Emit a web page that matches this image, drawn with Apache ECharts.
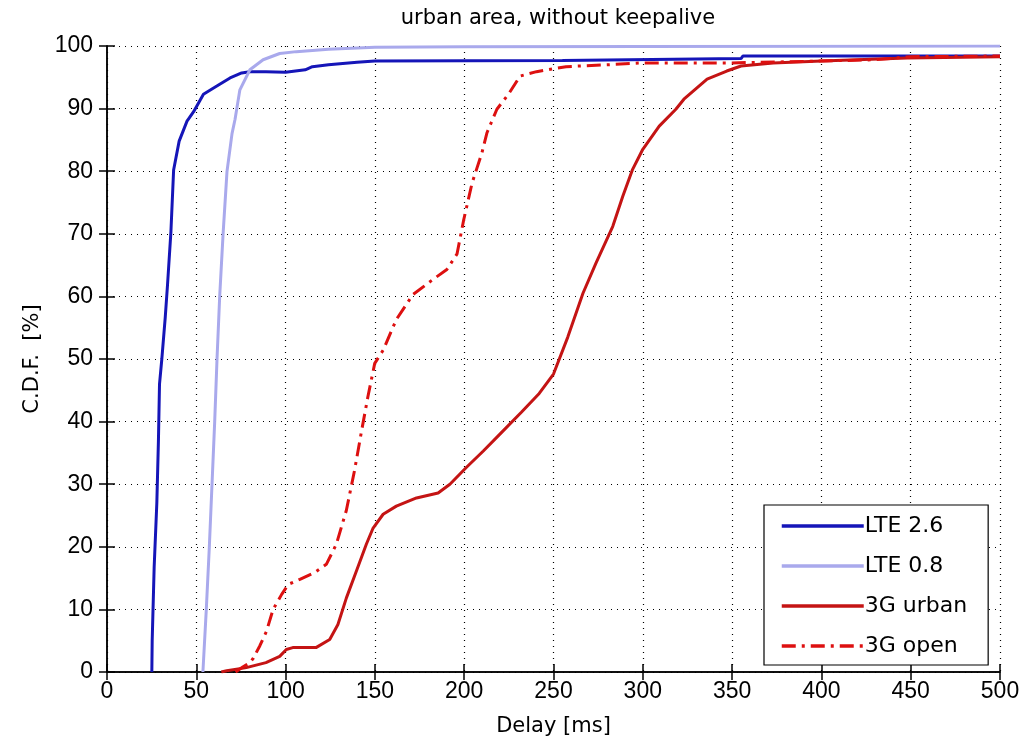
<!DOCTYPE html>
<html>
<head>
<meta charset="utf-8">
<script src="https://cdn.jsdelivr.net/npm/echarts@6/dist/echarts.min.js"></script>
<style>
  html, body { margin: 0; padding: 0; background: #fff; }
  #chart { width: 1027px; height: 747px; }
</style>
</head>
<body>
<div id="chart"></div>
<script>
// delay [ms] / C.D.F. [%]
const lte26Delay = [25.1, 25.3, 26.4, 27.9, 28.8, 29.4, 30.7, 32.6, 33.9, 35.8, 37.3, 40.4, 44.8, 48.5, 54, 61.5, 68.9, 75.4, 80, 89, 100, 111, 115, 124, 140, 150, 255, 256, 355, 356, 500];
const lte26Cdf = [0, 5, 16.7, 27, 37, 46, 50, 56.6, 61.9, 70.4, 80.2, 84.8, 88, 89.5, 92.3, 93.6, 94.9, 95.7, 95.9, 95.9, 95.8, 96.2, 96.7, 97, 97.4, 97.6, 97.7, 98.0, 98.0, 98.4, 98.4];

const lte08Delay = [53.7, 55.6, 57.3, 58.8, 60.3, 61.6, 63.1, 65, 67.2, 70, 71.7, 74.4, 80, 87.4, 96.7, 106, 124, 150, 200, 500];
const lte08Cdf = [0, 10, 20, 30, 40, 50, 60, 70, 80, 86, 88.3, 93, 96.2, 97.8, 98.8, 99.1, 99.5, 99.8, 99.9, 100];

const urbanDelay = [64, 67, 78, 89, 96.7, 100.4, 104, 117, 124.7, 129.3, 134, 139.6, 145.2, 149, 154.6, 162, 173.3, 185.4, 192, 201.3, 210.7, 220, 232, 242, 250, 258, 266.5, 273.9, 283.2, 288.8, 294.3, 300, 309.2, 318.5, 323, 336, 347, 355, 373, 400, 448, 500];
const urbanCdf = [0, 0.2, 0.7, 1.5, 2.5, 3.6, 3.9, 3.9, 5.2, 7.6, 11.8, 16.1, 20.4, 23, 25.2, 26.5, 27.8, 28.6, 30, 32.7, 35.3, 38, 41.5, 44.5, 47.6, 53.5, 60.5, 65.4, 71.2, 76, 80.3, 83.5, 87.2, 89.9, 91.5, 94.7, 96, 96.8, 97.3, 97.6, 98.1, 98.3];

const openDelay = [72, 76, 80, 81.9, 85.6, 89.3, 93, 97.8, 101.5, 108, 116.3, 122.8, 128.4, 134, 138.6, 142.4, 146.1, 149.9, 154.6, 162, 171.3, 182.5, 190.3, 196, 199.7, 204.4, 209.9, 212.7, 218.3, 224.8, 231.3, 240.5, 257, 280, 300, 350, 400, 430, 450, 500];
const openCdf = [0, 0.8, 1.5, 2.2, 4.2, 6.5, 10, 12.4, 14, 14.8, 15.9, 17.2, 20.4, 25.8, 32.2, 38.3, 44, 49.3, 51.4, 56.3, 60.3, 62.7, 64.3, 66.8, 72.2, 78.1, 82.9, 86.1, 89.9, 92.3, 95.2, 95.9, 96.7, 97, 97.3, 97.3, 97.6, 97.8, 98.3, 98.4];

const seriesNames = ['LTE 2.6', 'LTE 0.8', '3G urban', '3G open'];
const xTicks = { min: 0, max: 500, interval: 50 };
const yTicks = { min: 0, max: 100, interval: 10 };

const zip = (xs, ys) => xs.map((x, i) => [x, ys[i]]);

const tickFont = '"Liberation Sans", Arial, sans-serif';
const textFont = '"DejaVu Sans", sans-serif';

const dotted = { show: true, lineStyle: { color: '#000', type: [1, 5], width: 1.2 } };

const myChart = echarts.init(document.getElementById('chart'));

myChart.setOption({
  animation: false,
  backgroundColor: '#fff',
  title: {
    text: 'urban area, without keepalive',
    left: 553,
    textAlign: 'center',
    top: 3,
    textStyle: { fontFamily: textFont, fontSize: 21, fontWeight: 'normal', color: '#000' }
  },
  grid: { left: 107, right: 27, top: 46, bottom: 75 },
  xAxis: [
    {
      type: 'value', min: xTicks.min, max: xTicks.max, interval: xTicks.interval,
      name: 'Delay [ms]', nameLocation: 'middle', nameGap: 44,
      nameTextStyle: { fontFamily: textFont, fontSize: 21, color: '#000' },
      axisLine: { show: true, lineStyle: { color: '#000', width: 1.5 } },
      axisTick: { show: true, inside: true, length: 8, lineStyle: { color: '#000', width: 1.5 } },
      axisLabel: { fontFamily: tickFont, fontSize: 23, color: '#000', margin: 8 },
      splitLine: dotted
    },
    {
      type: 'value', position: 'top', min: xTicks.min, max: xTicks.max, interval: xTicks.interval,
      axisLine: { show: true, lineStyle: { color: '#000', width: 1.5 } },
      axisTick: { show: true, inside: true, length: 8, lineStyle: { color: '#000', width: 1.5 } },
      axisLabel: { show: false },
      splitLine: { show: false }
    }
  ],
  yAxis: [
    {
      type: 'value', min: yTicks.min, max: yTicks.max, interval: yTicks.interval,
      name: 'C.D.F.  [%]', nameLocation: 'middle', nameGap: 64,
      nameTextStyle: { fontFamily: textFont, fontSize: 21, color: '#000' },
      axisLine: { show: true, lineStyle: { color: '#000', width: 1.5 } },
      axisTick: { show: true, inside: true, length: 8, lineStyle: { color: '#000', width: 1.5 } },
      axisLabel: { fontFamily: tickFont, fontSize: 23, color: '#000', margin: 14 },
      splitLine: dotted
    },
    {
      type: 'value', position: 'right', min: yTicks.min, max: yTicks.max, interval: yTicks.interval,
      axisLine: { show: true, lineStyle: { color: '#000', width: 1.5 } },
      axisTick: { show: true, inside: true, length: 8, lineStyle: { color: '#000', width: 1.5 } },
      axisLabel: { show: false },
      splitLine: { show: false }
    }
  ],
  legend: {
    orient: 'vertical',
    left: 764,
    top: 505,
    padding: [10, 21, 8, 16],
    itemWidth: 82,
    itemHeight: 20,
    itemGap: 18,
    backgroundColor: '#fff',
    borderColor: '#000',
    borderWidth: 1.2,
    borderRadius: 0,
    data: seriesNames,
    itemStyle: { opacity: 0 },
    lineStyle: { width: 3.5 },
    textStyle: { fontFamily: textFont, fontSize: 22, color: '#000', padding: [0, 0, 0, -4] }
  },
  series: [
    {
      name: seriesNames[0], type: 'line', symbol: 'none',
      data: zip(lte26Delay, lte26Cdf),
      lineStyle: { color: '#1515b8', width: 3 }, itemStyle: { color: '#1515b8' }
    },
    {
      name: seriesNames[1], type: 'line', symbol: 'none',
      data: zip(lte08Delay, lte08Cdf),
      lineStyle: { color: '#a9a9ec', width: 3 }, itemStyle: { color: '#a9a9ec' }
    },
    {
      name: seriesNames[2], type: 'line', symbol: 'none',
      data: zip(urbanDelay, urbanCdf),
      lineStyle: { color: '#c41414', width: 3 }, itemStyle: { color: '#c41414' }
    },
    {
      name: seriesNames[3], type: 'line', symbol: 'none',
      data: zip(openDelay, openCdf),
      lineStyle: { color: '#dd1010', width: 3, type: [14, 6, 3, 6] }, itemStyle: { color: '#dd1010' }
    }
  ]
});

window.addEventListener('resize', myChart.resize);
</script>
</body>
</html>
